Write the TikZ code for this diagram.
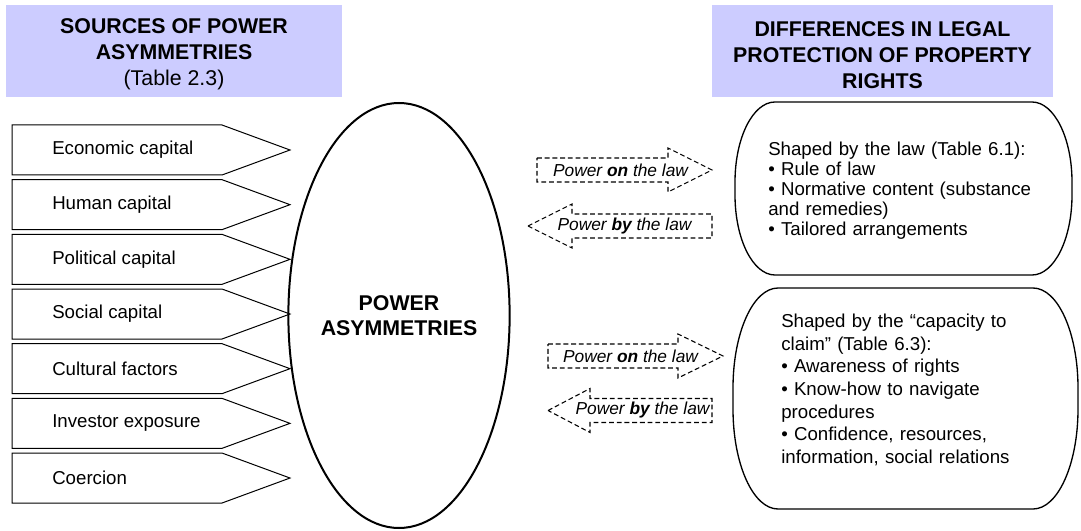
\documentclass[tikz,border=0pt]{standalone}
\usepackage{fontspec}
\setmainfont{Liberation Sans}
\usetikzlibrary{shapes.geometric}
\definecolor{hdrblue}{RGB}{204,204,255}
\begin{document}
\begin{tikzpicture}[x=0.75pt,y=-0.75pt,
  hdr/.style={fill=hdrblue, draw=none, align=center, inner sep=0pt, minimum height=69pt,
              font=\fontsize{16}{19.2}\selectfont},
  src/.style={draw=black, line width=0.75pt, line join=miter},
  srctext/.style={anchor=west, inner sep=0pt, font=\fontsize{14}{16}\selectfont},
  darrow/.style={draw=black, line width=0.8pt, dash pattern=on 3.6pt off 2.2pt},
  dtext/.style={font=\fontsize{13}{15}\selectfont\itshape, inner sep=0pt},
  rbox/.style={draw=black, line width=1pt},
  rtext/.style={anchor=west, inner sep=0pt, align=left, text width=230pt}
  ]
\useasboundingbox (0,0) rectangle (1081,531);

% headers
\node[hdr, minimum width=252pt] (hL) at (174,51)
  {\rule{0pt}{16pt}\textbf{SOURCES OF POWER}\\\textbf{ASYMMETRIES}\\(Table 2.3)};
\node[hdr, minimum width=255.75pt] (hR) at (882.5,51)
  {\rule{0pt}{17.5pt}\textbf{DIFFERENCES IN LEGAL}\\\textbf{PROTECTION OF PROPERTY}\\\textbf{RIGHTS}};

% sources (pentagon arrows)
\foreach \i/\t in {0/Economic capital,1/Human capital,2/Political capital,3/Social capital,4/Cultural factors,5/Investor exposure,6/Coercion}{
  \pgfmathsetmacro{\top}{125+54.67*\i}
  \draw[src] (12,\top) -- (222,\top) -- (290,\top+25) -- (222,\top+50) -- (12,\top+50) -- cycle;
  \node[srctext] (s\i) at (52,\top+25) {\t};
}

% central ellipse
\node[ellipse, draw=black, line width=1.5pt, minimum width=156pt, minimum height=318.75pt,
      inner sep=0pt, align=center, font=\fontsize{16}{19.2}\selectfont\bfseries]
      (pa) at (399,315.5) {POWER\\ASYMMETRIES};

% dashed arrows
\draw[darrow] (537,158) -- (668,158) -- (668,148) -- (712,170) -- (668,192) -- (668,182) -- (537,182) -- cycle;
\node[dtext] (on1) at (620.5,170) {Power \textbf{on} the law};
\draw[darrow] (528,226) -- (572,204) -- (572,214) -- (712,214) -- (712,238) -- (572,238) -- (572,248) -- cycle;
\node[dtext] (by1) at (624.5,226) {Power \textbf{by} the law};
\draw[darrow] (548,344) -- (678,344) -- (678,334) -- (723,356) -- (678,378) -- (678,368) -- (548,368) -- cycle;
\node[dtext] (on2) at (630.5,356) {Power \textbf{on} the law};
\draw[darrow] (548,410.5) -- (590,388.5) -- (590,398.5) -- (712,398.5) -- (712,422.5) -- (590,422.5) -- (590,432.5) -- cycle;
\node[dtext] (by2) at (642.5,410.5) {Power \textbf{by} the law};

% right boxes
\draw[rbox] (775,102) -- (1032,102) arc[start angle=90, end angle=0, x radius=30pt, y radius=60pt]
  -- (1072,195) arc[start angle=0, end angle=-90, x radius=30pt, y radius=60pt]
  -- (775,275) arc[start angle=270, end angle=180, x radius=30pt, y radius=60pt]
  -- (735,182) arc[start angle=180, end angle=90, x radius=30pt, y radius=60pt] -- cycle;
\node[rtext, font=\fontsize{14}{15}\selectfont] (law) at (768,191)
  {Shaped by the law (Table 6.1):\\
   • Rule of law\\
   • Normative content (substance\\
   and remedies)\\
   • Tailored arrangements};

\draw[rbox] (778,288) -- (1033,288) arc[start angle=90, end angle=0, x radius=33.75pt, y radius=75pt]
  -- (1078,409) arc[start angle=0, end angle=-90, x radius=33.75pt, y radius=75pt]
  -- (778,509) arc[start angle=270, end angle=180, x radius=33.75pt, y radius=75pt]
  -- (733,388) arc[start angle=180, end angle=90, x radius=33.75pt, y radius=75pt] -- cycle;
\node[rtext, font=\fontsize{14}{17}\selectfont] (claim) at (781,390)
  {Shaped by the “capacity to\\
   claim” (Table 6.3):\\
   • Awareness of rights\\
   • Know-how to navigate\\
   procedures\\
   • Confidence, resources,\\
   information, social relations};
\end{tikzpicture}
\end{document}
